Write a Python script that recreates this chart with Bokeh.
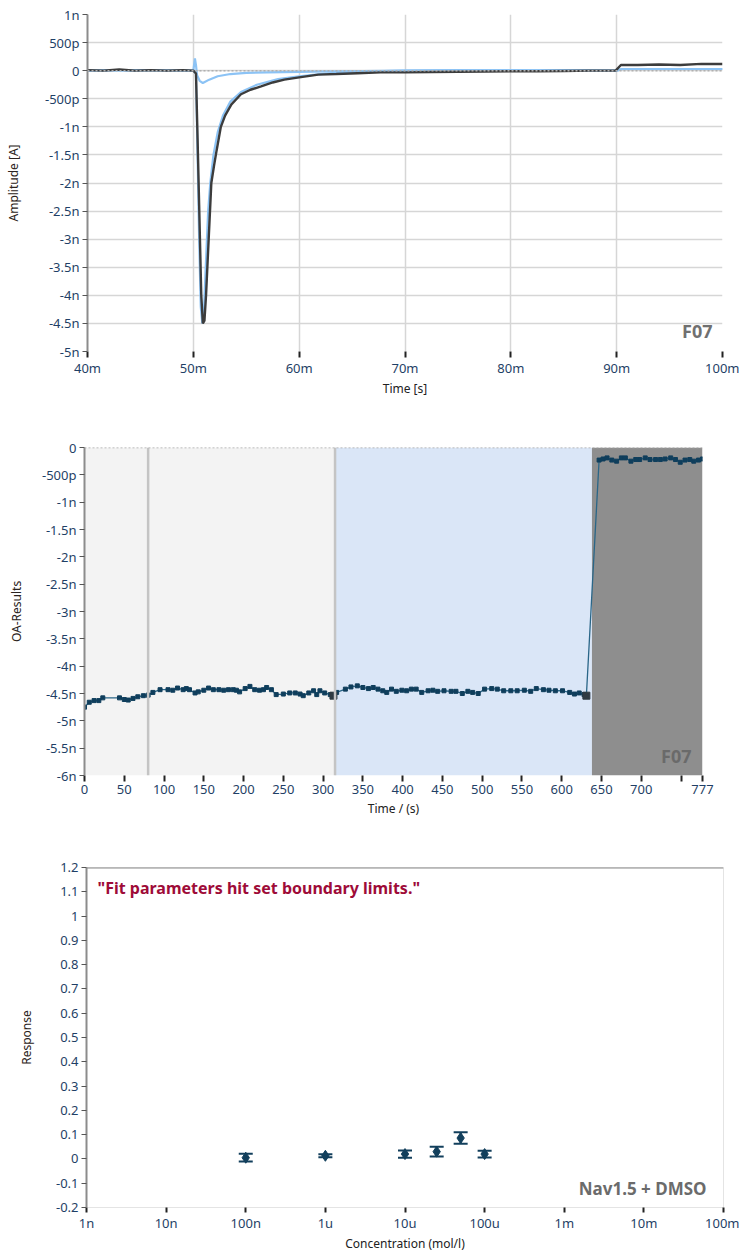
from bokeh.plotting import figure
from bokeh.models import (FixedTicker, CustomJSTickFormatter, Span, Label,
                          ColumnDataSource, Whisker, TeeHead, Range1d)
from bokeh.embed import file_html
from bokeh.resources import INLINE

# ---------------- Top chart: current traces (time in ms, amplitude in nA)
dark_t = [40.0, 41.5, 43.0, 44.5, 46.0, 47.5, 49.0, 50.0, 50.25, 50.4, 50.55, 50.75, 50.9, 51.05,
          51.2, 51.45, 51.7, 51.95, 52.2, 52.6, 53.0, 53.6, 54.5, 55.4, 56.4, 57.5, 58.6, 60.0,
          61.8, 63.5, 65.5, 67.7, 70.0, 72.5, 75.0, 77.5, 80.0, 82.5, 85.0, 87.5, 89.9, 90.4,
          92.0, 94.0, 96.0, 98.0, 100.0]
dark_v = [0.01, 0.0, 0.02, 0.0, 0.01, 0.0, 0.01, 0.0, -0.05, -1.2, -2.4, -4.0, -4.5, -4.45,
          -4.0, -3.0, -2.0, -1.7, -1.42, -1.0, -0.8, -0.6, -0.42, -0.34, -0.28, -0.21, -0.16, -0.12,
          -0.07, -0.06, -0.045, -0.03, -0.03, -0.025, -0.02, -0.015, -0.01, -0.01, -0.005, 0.0, 0.0, 0.1,
          0.1, 0.11, 0.1, 0.12, 0.12]

blue_big_t = [40.0, 42.0, 44.0, 46.0, 48.0, 50.0, 50.25, 50.4, 50.55, 50.7, 50.85, 51.0, 51.15,
              51.4, 51.6, 51.9, 52.3, 52.8, 53.5, 54.5, 56.0, 58.0, 60.0, 62.0, 64.0, 67.0, 70.0,
              75.0, 80.0, 85.0, 90.0, 90.5, 95.0, 100.0]
blue_big_v = [0.0, 0.01, 0.0, 0.01, 0.0, 0.0, -0.05, -1.5, -3.0, -4.2, -4.5, -4.3, -3.6,
              -2.5, -2.0, -1.5, -1.1, -0.8, -0.55, -0.38, -0.25, -0.15, -0.1, -0.06, -0.03, -0.01, 0.0,
              0.01, 0.0, 0.01, 0.0, 0.03, 0.03, 0.03]

blue_small_t = [40.0, 45.0, 50.0, 50.15, 50.25, 50.35, 50.6, 50.9, 51.5, 52.3, 53.5, 55.0, 57.0,
                60.0, 64.0, 70.0, 80.0, 90.0, 90.5, 100.0]
blue_small_v = [0.0, 0.01, 0.0, 0.22, 0.1, -0.08, -0.18, -0.22, -0.16, -0.1, -0.06, -0.04, -0.03,
                -0.02, -0.01, 0.0, 0.01, 0.0, 0.03, 0.03]

amp_ticks = [1, 0.5, 0, -0.5, -1, -1.5, -2, -2.5, -3, -3.5, -4, -4.5, -5]
amp_labels = ["1n", "500p", "0", "-500p", "-1n", "-1.5n", "-2n", "-2.5n", "-3n", "-3.5n",
              "-4n", "-4.5n", "-5n"]
time_ms_ticks = [40, 50, 60, 70, 80, 90, 100]
time_ms_labels = ["40m", "50m", "60m", "70m", "80m", "90m", "100m"]

# ---------------- Middle chart: OA results over time (s, nA)
oa_t = [0, 6, 12, 18, 23, 44, 50, 55, 61, 67, 74, 80, 86, 95, 105, 111, 117, 124, 128, 132,
        139, 143, 150, 156, 162, 169, 175, 181, 187, 191, 195, 202, 208, 214, 220, 225, 229, 235,
        241, 250, 258, 265, 271, 275, 282, 288, 292, 296, 302, 309, 313,
        317, 328, 335, 343, 350, 357, 363, 369, 375, 380, 386, 392, 399, 405, 411, 417, 424, 432,
        438, 444, 452, 461, 467, 475, 482, 488, 495, 503, 512, 519, 527, 536, 544, 553, 561, 568,
        577, 584, 592, 601, 610, 616, 622, 628, 631,
        647, 652, 657, 663, 669, 675, 680, 687, 693, 698, 705, 711, 718, 724, 730, 737, 743, 749,
        755, 761, 766, 772, 777]
oa_v = [-4.75, -4.66, -4.63, -4.63, -4.58, -4.58, -4.61, -4.62, -4.59, -4.56, -4.54, -4.53, -4.48,
        -4.43, -4.43, -4.44, -4.40, -4.43, -4.41, -4.43, -4.49, -4.47, -4.44, -4.40, -4.43, -4.43,
        -4.44, -4.43, -4.43, -4.44, -4.47, -4.41, -4.37, -4.43, -4.44, -4.43, -4.39, -4.43, -4.52,
        -4.51, -4.49, -4.49, -4.51, -4.54, -4.49, -4.45, -4.52, -4.45, -4.49, -4.52, -4.54,
        -4.48, -4.42, -4.38, -4.36, -4.39, -4.41, -4.39, -4.42, -4.45, -4.48, -4.42, -4.46, -4.44,
        -4.45, -4.42, -4.42, -4.48, -4.45, -4.44, -4.46, -4.45, -4.46, -4.46, -4.50, -4.46, -4.48,
        -4.50, -4.42, -4.41, -4.42, -4.45, -4.45, -4.45, -4.44, -4.46, -4.41, -4.43, -4.44, -4.45,
        -4.45, -4.48, -4.51, -4.49, -4.52, -4.54,
        -0.23, -0.21, -0.19, -0.23, -0.25, -0.19, -0.19, -0.25, -0.22, -0.22, -0.19, -0.22, -0.22,
        -0.22, -0.21, -0.19, -0.22, -0.27, -0.23, -0.22, -0.25, -0.23, -0.21]
segment_end_times = [313, 631]

region_start = [0, 315, 638]
region_end = [315, 638, 777]
region_color = ["#f3f3f3", "#dae6f7", "#8e8e8e"]
separator_times = [80, 315]

oa_ticks = [0, -0.5, -1, -1.5, -2, -2.5, -3, -3.5, -4, -4.5, -5, -5.5, -6]
oa_labels = ["0", "-500p", "-1n", "-1.5n", "-2n", "-2.5n", "-3n", "-3.5n", "-4n", "-4.5n",
             "-5n", "-5.5n", "-6n"]
time_s_ticks = [0, 50, 100, 150, 200, 250, 300, 350, 400, 450, 500, 550, 600, 650, 700, 750, 777]
time_s_labels = ["0", "50", "100", "150", "200", "250", "300", "350", "400", "450", "500",
                 "550", "600", "650", "700", "", "777"]

# ---------------- Bottom chart: concentration response
conc = [1e-7, 1e-6, 1e-5, 2.5e-5, 5e-5, 1e-4]
resp = [0.005, 0.013, 0.02, 0.03, 0.086, 0.02]
resp_err = [0.016, 0.006, 0.015, 0.02, 0.024, 0.014]

resp_ticks = [1.2, 1.1, 1.0, 0.9, 0.8, 0.7, 0.6, 0.5, 0.4, 0.3, 0.2, 0.1, 0.0, -0.1, -0.2]
resp_labels = ["1.2", "1.1", "1", "0.9", "0.8", "0.7", "0.6", "0.5", "0.4", "0.3", "0.2",
               "0.1", "0", "-0.1", "-0.2"]
conc_ticks = [1e-9, 1e-8, 1e-7, 1e-6, 1e-5, 1e-4, 1e-3, 1e-2, 1e-1]
conc_labels = ["1n", "10n", "100n", "1u", "10u", "100u", "1m", "10m", "100m"]

# ---------------- styling helpers
FONT = "Noto Sans"
TICK_COLOR = "#1f3f66"
TITLE_COLOR = "#2b2320"


def lin_fmt(tvals, tlabels):
    return CustomJSTickFormatter(args=dict(tvals=tvals, tlabels=tlabels), code="""
        let best = 0, d = Infinity;
        for (let i = 0; i < tvals.length; i++) {
            const e = Math.abs(tvals[i] - tick);
            if (e < d) { d = e; best = i; }
        }
        return tlabels[best];
    """)


def log_fmt(tvals, tlabels):
    return CustomJSTickFormatter(args=dict(tvals=tvals, tlabels=tlabels), code="""
        let best = 0, d = Infinity;
        for (let i = 0; i < tvals.length; i++) {
            const e = Math.abs(Math.log10(tvals[i]) - Math.log10(tick));
            if (e < d) { d = e; best = i; }
        }
        return tlabels[best];
    """)


def style_axes(p, ylabel_standoff, bottom_tick_out=6, xlab_standoff=3, xtitle_standoff=3):
    for ax in p.xaxis + p.yaxis:
        ax.major_label_text_font = FONT
        ax.major_label_text_font_size = "13px"
        ax.major_label_text_color = TICK_COLOR
        ax.axis_label_text_font = FONT
        ax.axis_label_text_font_size = "12px"
        ax.axis_label_text_font_style = "normal"
        ax.axis_label_text_color = TITLE_COLOR
        ax.minor_tick_line_color = None
        ax.major_tick_in = 0
    p.yaxis.axis_line_color = "#8c8c8c"
    p.yaxis.axis_line_width = 2
    p.yaxis.major_tick_line_color = "#555555"
    p.yaxis.major_tick_out = 5
    p.yaxis.major_label_standoff = 3
    p.yaxis.axis_label_standoff = ylabel_standoff
    p.xaxis.axis_line_color = None
    p.xaxis.major_tick_line_color = "#222222"
    p.xaxis.major_tick_line_width = 2
    p.xaxis.major_tick_out = bottom_tick_out
    p.xaxis.major_label_standoff = xlab_standoff
    p.xaxis.axis_label_standoff = xtitle_standoff
    p.xaxis.axis_label_text_color = "#222222"


W = 739

# ================= TOP
p1 = figure(width=W, height=403, output_backend="svg", toolbar_location=None,
            x_range=Range1d(40, 100), y_range=Range1d(-5, 1),
            min_border_left=87, min_border_right=17, min_border_top=14, min_border_bottom=52,
            x_axis_label="Time [s]", y_axis_label="Amplitude [A]")
p1.outline_line_color = None
p1.grid.grid_line_color = "#d6d6d6"
p1.grid.grid_line_width = 1.5
p1.xaxis.ticker = FixedTicker(ticks=time_ms_ticks)
p1.yaxis.ticker = FixedTicker(ticks=amp_ticks)
p1.xgrid.ticker = FixedTicker(ticks=time_ms_ticks)
p1.ygrid.ticker = FixedTicker(ticks=amp_ticks)
p1.xaxis.formatter = lin_fmt(time_ms_ticks, time_ms_labels)
p1.yaxis.formatter = lin_fmt(amp_ticks, amp_labels)
style_axes(p1, 20, bottom_tick_out=6, xlab_standoff=1, xtitle_standoff=0)
p1.add_layout(Span(location=0, dimension="width", line_color="#b0b0b0",
                   line_dash="2 2", line_width=1.5))
p1.line(blue_big_t, blue_big_v, line_color="#8cc3f5", line_width=2.2)
p1.line(blue_small_t, blue_small_v, line_color="#8cc3f5", line_width=2.2)
p1.line(dark_t, dark_v, line_color="#3c3c3c", line_width=2.4)
p1.add_layout(Label(x=625, y=9, x_units="screen", y_units="screen", text="F07",
                    text_align="right", text_baseline="bottom", text_font=FONT,
                    text_font_size="18px", text_font_style="bold", text_color="#707070"))

# ================= MIDDLE
p2 = figure(width=W, height=419, output_backend="svg", toolbar_location=None,
            x_range=Range1d(0, 777), y_range=Range1d(-6, 0),
            min_border_left=84, min_border_right=37, min_border_top=44, min_border_bottom=47,
            x_axis_label="Time / (s)", y_axis_label="OA-Results")
p2.outline_line_color = None
p2.grid.grid_line_color = None
p2.xaxis.ticker = FixedTicker(ticks=time_s_ticks)
p2.yaxis.ticker = FixedTicker(ticks=oa_ticks)
p2.xaxis.formatter = lin_fmt(time_s_ticks, time_s_labels)
p2.yaxis.formatter = lin_fmt(oa_ticks, oa_labels)
style_axes(p2, 14)
p2.quad(left=region_start, right=region_end, bottom=-6, top=0, fill_color=region_color,
        line_color=None)
for st in separator_times:
    p2.add_layout(Span(location=st, dimension="height", line_color="#c4c4c4", line_width=2.5))
p2.add_layout(Span(location=0, dimension="width", line_color="#a8a8a8",
                   line_dash="2 2", line_width=1.5))
p2.line(oa_t, oa_v, line_color="#2a6688", line_width=1.3)
p2.scatter(oa_t, oa_v, marker="square", size=4, fill_color="#0f3e5c", line_color="#0f3e5c")
end_idx = [oa_t.index(t) for t in segment_end_times]
p2.scatter([oa_t[i] for i in end_idx], [oa_v[i] for i in end_idx], marker="square", size=7,
           fill_color="#2f3a42", line_color="#2f3a42")
p2.add_layout(Label(x=607, y=8, x_units="screen", y_units="screen", text="F07",
                    text_align="right", text_baseline="bottom", text_font=FONT,
                    text_font_size="18px", text_font_style="bold", text_color="#6a6a6a"))

# ================= BOTTOM
p3 = figure(width=W, height=432, output_backend="svg", toolbar_location=None,
            x_axis_type="log", x_range=Range1d(1e-9, 1e-1), y_range=Range1d(-0.2, 1.2),
            min_border_left=86, min_border_right=16, min_border_top=45, min_border_bottom=47,
            x_axis_label="Concentration (mol/l)", y_axis_label="Response")
p3.outline_line_color = "#e4e4e4"
p3.grid.grid_line_color = None
p3.xaxis.ticker = FixedTicker(ticks=conc_ticks)
p3.yaxis.ticker = FixedTicker(ticks=resp_ticks)
p3.xaxis.formatter = log_fmt(conc_ticks, conc_labels)
p3.yaxis.formatter = lin_fmt(resp_ticks, resp_labels)
style_axes(p3, 18, bottom_tick_out=5, xlab_standoff=1, xtitle_standoff=0)
p3.add_layout(Span(location=1.2, dimension="width", line_color="#8a8a8a", line_width=2))

src = ColumnDataSource(dict(conc=conc, resp=resp,
                            lo=[r - e for r, e in zip(resp, resp_err)],
                            hi=[r + e for r, e in zip(resp, resp_err)]))
p3.add_layout(Whisker(source=src, base="conc", lower="lo", upper="hi",
                      line_color="#123f5c", line_width=2,
                      upper_head=TeeHead(size=14, line_color="#123f5c", line_width=2),
                      lower_head=TeeHead(size=14, line_color="#123f5c", line_width=2)))
p3.scatter("conc", "resp", source=src, marker="diamond", size=11,
           fill_color="#123f5c", line_color="#123f5c")
p3.add_layout(Label(x=11, y=9, x_units="screen", y_units="screen",
                    text='"Fit parameters hit set boundary limits."',
                    text_align="left", text_baseline="top", text_font=FONT,
                    text_font_size="16px", text_font_style="bold", text_color="#9e0b38"))
p3.add_layout(Label(x=620, y=8, x_units="screen", y_units="screen", text="Nav1.5 + DMSO",
                    text_align="right", text_baseline="bottom", text_font=FONT,
                    text_font_size="17px", text_font_style="bold", text_color="#6b6b6b"))
# keep the red note anchored near the top of the plot area
p3.renderers  # no-op
p3.center[-2].y = 1.2
p3.center[-2].y_units = "data"
p3.center[-2].y_offset = -9

open("out.html", "w").write(file_html([p1, p2, p3], INLINE))
